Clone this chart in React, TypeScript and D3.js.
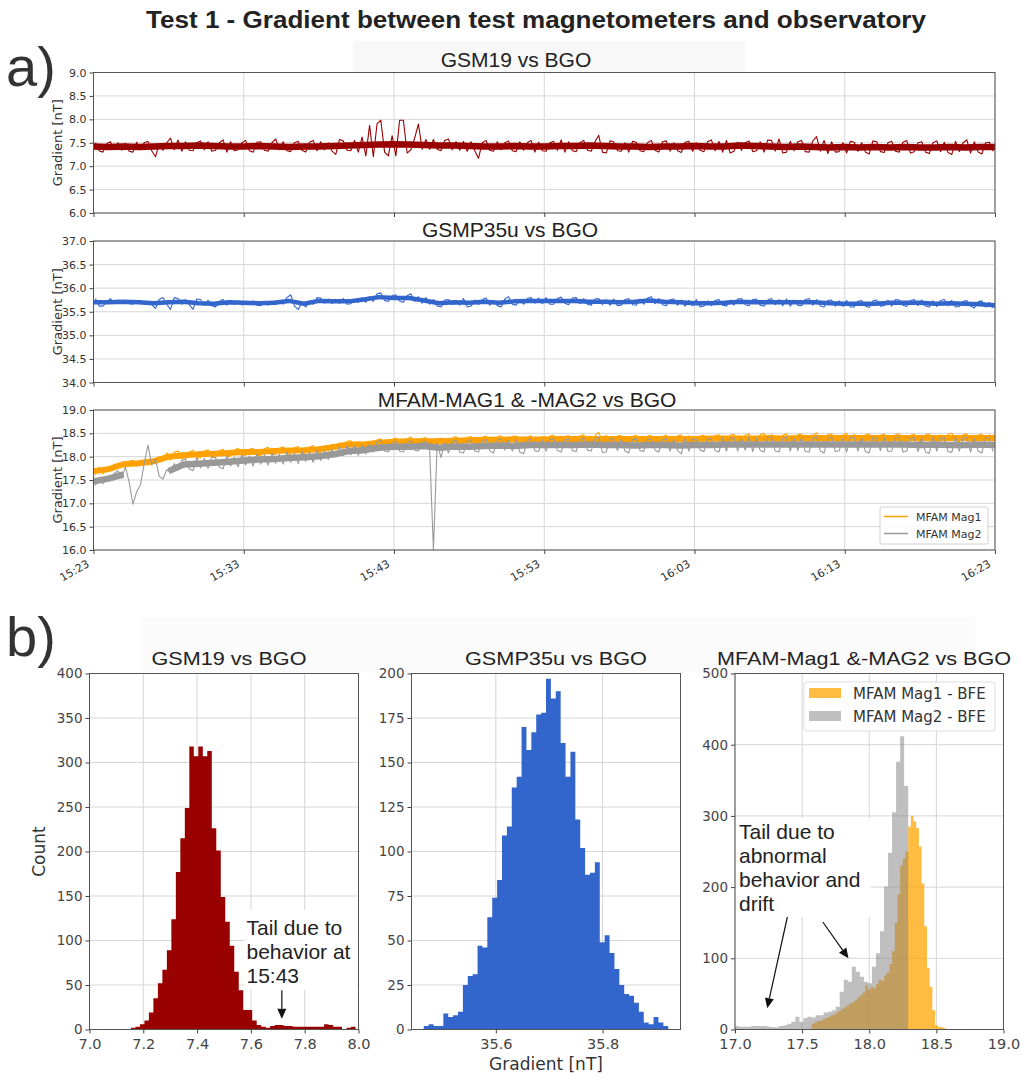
import * as d3 from 'd3';
import { useEffect, useRef } from 'react';

const WIDTH = 1028;
const HEIGHT = 1083;
const FONT_TICK = "'DejaVu Sans', 'Liberation Sans', sans-serif";
const FONT_TEXT = "'Liberation Sans', Arial, sans-serif";

/* ---------- a) gradient traces 15:23 – 16:23 ---------- */
const TIME_TICKS = ['15:23', '15:33', '15:43', '15:53', '16:03', '16:13', '16:23'];
// extremes: min / max of the trace in 30 s bins (120 bins)
const BIN_SECONDS = 30;
// core: centre of the dense noise band, one value per minute (61 values, null = no band)
const CORE_SECONDS = 60;

const gsm19Ticks = [6.0, 6.5, 7.0, 7.5, 8.0, 8.5, 9.0];
const gsmp35Ticks = [34.0, 34.5, 35.0, 35.5, 36.0, 36.5, 37.0];
const mfamTicks = [16.0, 16.5, 17.0, 17.5, 18.0, 18.5, 19.0];

const gsm19Core = [
    7.42, 7.41, 7.42, 7.41, 7.42, 7.43, 7.43, 7.44, 7.43, 7.42,
    7.42, 7.43, 7.42, 7.41, 7.42, 7.42, 7.43, 7.44, 7.45, 7.46,
    7.47, 7.46, 7.45, 7.44, 7.44, 7.43, 7.42, 7.42, 7.43, 7.42,
    7.42, 7.43, 7.43, 7.44, 7.43, 7.42, 7.42, 7.41, 7.42, 7.42,
    7.43, 7.42, 7.42, 7.44, 7.43, 7.42, 7.41, 7.42, 7.41, 7.40,
    7.41, 7.40, 7.41, 7.40, 7.41, 7.40, 7.40, 7.41, 7.40, 7.41,
    7.41,
];
const gsm19Hi = [
    7.50, 7.48, 7.52, 7.50, 7.49, 7.51, 7.50, 7.53, 7.48, 7.50,
    7.60, 7.56, 7.52, 7.50, 7.54, 7.52, 7.50, 7.56, 7.52, 7.50,
    7.55, 7.51, 7.52, 7.50, 7.58, 7.52, 7.50, 7.53, 7.51, 7.55,
    7.52, 7.50, 7.57, 7.54, 7.55, 7.62, 7.87, 7.91, 7.98, 7.65,
    7.98, 7.98, 7.60, 7.90, 7.57, 7.57, 7.55, 7.58, 7.52, 7.53,
    7.52, 7.50, 7.55, 7.52, 7.50, 7.54, 7.52, 7.50, 7.55, 7.51,
    7.50, 7.53, 7.56, 7.52, 7.50, 7.55, 7.52, 7.66, 7.54, 7.52,
    7.50, 7.53, 7.51, 7.50, 7.55, 7.52, 7.54, 7.50, 7.51, 7.53,
    7.50, 7.52, 7.56, 7.53, 7.55, 7.51, 7.50, 7.54, 7.52, 7.56,
    7.55, 7.58, 7.53, 7.52, 7.55, 7.54, 7.63, 7.55, 7.52, 7.50,
    7.53, 7.51, 7.50, 7.54, 7.52, 7.50, 7.53, 7.51, 7.55, 7.50,
    7.52, 7.50, 7.54, 7.51, 7.53, 7.50, 7.56, 7.52, 7.50, 7.51,
];
const gsm19Lo = [
    7.33, 7.30, 7.35, 7.34, 7.32, 7.30, 7.35, 7.33, 7.20, 7.34,
    7.35, 7.32, 7.34, 7.33, 7.35, 7.32, 7.34, 7.30, 7.33, 7.35,
    7.33, 7.30, 7.34, 7.32, 7.35, 7.33, 7.31, 7.34, 7.30, 7.33,
    7.35, 7.32, 7.25, 7.34, 7.33, 7.30, 7.22, 7.20, 7.30, 7.22,
    7.22, 7.28, 7.35, 7.36, 7.36, 7.36, 7.33, 7.35, 7.34, 7.32,
    7.33, 7.17, 7.34, 7.32, 7.35, 7.33, 7.31, 7.34, 7.30, 7.33,
    7.32, 7.34, 7.30, 7.33, 7.31, 7.34, 7.32, 7.30, 7.28, 7.33,
    7.32, 7.30, 7.33, 7.31, 7.34, 7.30, 7.32, 7.33, 7.29, 7.32,
    7.34, 7.31, 7.33, 7.30, 7.28, 7.32, 7.34, 7.31, 7.33, 7.30,
    7.32, 7.28, 7.30, 7.33, 7.31, 7.30, 7.32, 7.27, 7.30, 7.31,
    7.28, 7.32, 7.30, 7.26, 7.31, 7.29, 7.32, 7.30, 7.28, 7.31,
    7.30, 7.27, 7.31, 7.29, 7.25, 7.31, 7.28, 7.30, 7.26, 7.32,
];

const gsmp35Core = [
    35.70, 35.70, 35.71, 35.70, 35.68, 35.70, 35.71, 35.68, 35.67, 35.70,
    35.69, 35.68, 35.69, 35.73, 35.67, 35.73, 35.72, 35.72, 35.76, 35.81,
    35.79, 35.79, 35.74, 35.68, 35.70, 35.69, 35.71, 35.69, 35.72, 35.73,
    35.73, 35.73, 35.73, 35.71, 35.71, 35.70, 35.71, 35.74, 35.71, 35.70,
    35.68, 35.68, 35.69, 35.71, 35.70, 35.70, 35.70, 35.70, 35.70, 35.68,
    35.67, 35.67, 35.67, 35.69, 35.69, 35.69, 35.67, 35.68, 35.67, 35.66,
    35.64,
];
const gsmp35Hi = [
    35.78, 35.70, 35.78, 35.75, 35.74, 35.73, 35.74, 35.72, 35.76, 35.80,
    35.80, 35.78, 35.76, 35.77, 35.76, 35.74, 35.72, 35.76, 35.74, 35.73,
    35.72, 35.73, 35.70, 35.73, 35.74, 35.80, 35.86, 35.70, 35.72, 35.80,
    35.79, 35.77, 35.76, 35.78, 35.76, 35.80, 35.82, 35.88, 35.90, 35.84,
    35.86, 35.84, 35.88, 35.82, 35.80, 35.76, 35.75, 35.76, 35.74, 35.78,
    35.75, 35.76, 35.79, 35.74, 35.77, 35.82, 35.76, 35.78, 35.80, 35.79,
    35.80, 35.78, 35.81, 35.79, 35.80, 35.78, 35.77, 35.78, 35.76, 35.77,
    35.76, 35.78, 35.77, 35.79, 35.82, 35.78, 35.76, 35.77, 35.75, 35.74,
    35.76, 35.73, 35.74, 35.76, 35.75, 35.77, 35.78, 35.76, 35.77, 35.75,
    35.78, 35.76, 35.77, 35.75, 35.76, 35.78, 35.76, 35.74, 35.75, 35.73,
    35.74, 35.72, 35.74, 35.73, 35.75, 35.74, 35.76, 35.75, 35.74, 35.76,
    35.75, 35.73, 35.74, 35.76, 35.74, 35.72, 35.74, 35.71, 35.73, 35.70,
];
const gsmp35Lo = [
    35.62, 35.62, 35.68, 35.68, 35.67, 35.66, 35.67, 35.65, 35.57, 35.66,
    35.55, 35.66, 35.65, 35.55, 35.64, 35.63, 35.60, 35.64, 35.65, 35.64,
    35.65, 35.64, 35.63, 35.64, 35.65, 35.66, 35.62, 35.55, 35.60, 35.66,
    35.68, 35.67, 35.68, 35.66, 35.67, 35.70, 35.70, 35.72, 35.74, 35.72,
    35.73, 35.70, 35.72, 35.68, 35.66, 35.62, 35.60, 35.65, 35.64, 35.60,
    35.62, 35.65, 35.64, 35.63, 35.60, 35.66, 35.64, 35.66, 35.68, 35.67,
    35.66, 35.66, 35.68, 35.65, 35.67, 35.66, 35.64, 35.65, 35.64, 35.63,
    35.64, 35.65, 35.64, 35.66, 35.67, 35.65, 35.63, 35.64, 35.62, 35.63,
    35.60, 35.62, 35.63, 35.64, 35.62, 35.64, 35.65, 35.63, 35.64, 35.62,
    35.65, 35.63, 35.62, 35.64, 35.63, 35.64, 35.62, 35.60, 35.62, 35.61,
    35.60, 35.60, 35.62, 35.59, 35.62, 35.63, 35.62, 35.64, 35.61, 35.63,
    35.62, 35.60, 35.61, 35.63, 35.60, 35.61, 35.62, 35.58, 35.60, 35.58,
];

const mag1Core = [
    17.69, 17.73, 17.84, 17.86, 17.90, 18.00, 18.03, 18.05, 18.06, 18.08,
    18.10, 18.10, 18.12, 18.13, 18.14, 18.16, 18.21, 18.26, 18.26, 18.30,
    18.32, 18.33, 18.33, 18.33, 18.34, 18.35, 18.36, 18.36, 18.37, 18.37,
    18.37, 18.38, 18.38, 18.38, 18.38, 18.38, 18.38, 18.38, 18.38, 18.38,
    18.38, 18.39, 18.39, 18.39, 18.39, 18.40, 18.39, 18.40, 18.40, 18.40,
    18.40, 18.40, 18.40, 18.40, 18.40, 18.40, 18.40, 18.40, 18.40, 18.40,
    18.40,
];
const mag1Hi = [
    17.78, 17.76, 17.84, 17.88, 17.90, 17.92, 17.90, 17.93, 18.00, 18.08,
    18.10, 18.12, 18.10, 18.14, 18.12, 18.15, 18.13, 18.16, 18.14, 18.18,
    18.16, 18.18, 18.17, 18.20, 18.18, 18.21, 18.19, 18.22, 18.20, 18.24,
    18.22, 18.26, 18.30, 18.33, 18.34, 18.32, 18.31, 18.36, 18.38, 18.37,
    18.40, 18.38, 18.42, 18.39, 18.41, 18.38, 18.40, 18.39, 18.43, 18.41,
    18.43, 18.41, 18.44, 18.42, 18.45, 18.43, 18.44, 18.42, 18.45, 18.43,
    18.44, 18.46, 18.43, 18.45, 18.44, 18.47, 18.45, 18.52, 18.46, 18.44,
    18.45, 18.43, 18.46, 18.44, 18.45, 18.43, 18.46, 18.44, 18.47, 18.45,
    18.44, 18.46, 18.45, 18.47, 18.46, 18.48, 18.46, 18.49, 18.47, 18.50,
    18.48, 18.46, 18.49, 18.47, 18.48, 18.46, 18.51, 18.47, 18.49, 18.46,
    18.50, 18.48, 18.47, 18.49, 18.46, 18.48, 18.47, 18.49, 18.46, 18.48,
    18.47, 18.49, 18.46, 18.48, 18.50, 18.47, 18.49, 18.46, 18.48, 18.47,
];
const mag1Lo = [
    17.60, 17.63, 17.70, 17.76, 17.80, 17.80, 17.81, 17.82, 17.85, 17.90,
    17.93, 17.95, 17.95, 17.97, 17.98, 17.99, 17.98, 18.00, 18.01, 18.02,
    18.02, 18.03, 18.02, 18.04, 18.05, 18.06, 18.05, 18.07, 18.08, 18.09,
    18.10, 18.12, 18.15, 18.18, 18.20, 18.19, 18.20, 18.22, 18.24, 18.24,
    18.25, 18.24, 18.26, 18.25, 18.26, 18.25, 18.27, 18.26, 18.28, 18.27,
    18.29, 18.28, 18.30, 18.29, 18.31, 18.29, 18.30, 18.28, 18.31, 18.29,
    18.30, 18.31, 18.29, 18.30, 18.29, 18.32, 18.30, 18.33, 18.31, 18.29,
    18.30, 18.29, 18.31, 18.30, 18.31, 18.29, 18.32, 18.30, 18.32, 18.31,
    18.30, 18.32, 18.31, 18.33, 18.31, 18.33, 18.32, 18.34, 18.32, 18.34,
    18.33, 18.31, 18.34, 18.32, 18.33, 18.31, 18.35, 18.32, 18.34, 18.31,
    18.34, 18.33, 18.32, 18.34, 18.31, 18.33, 18.32, 18.34, 18.31, 18.33,
    18.32, 18.34, 18.31, 18.33, 18.34, 18.32, 18.34, 18.31, 18.33, 18.32,
];

const mag2Core = [
    17.47, 17.53, 17.62, null, null, 17.69, 17.83, 17.85, 17.87, 17.89,
    17.92, 17.94, 17.95, 17.97, 17.99, 18.01, 18.05, 18.12, 18.14, 18.19,
    18.21, 18.21, 18.23, 18.19, 18.22, 18.21, 18.23, 18.24, 18.23, 18.25,
    18.25, 18.25, 18.25, 18.26, 18.25, 18.25, 18.24, 18.25, 18.25, 18.24,
    18.25, 18.25, 18.26, 18.26, 18.26, 18.26, 18.26, 18.26, 18.26, 18.26,
    18.26, 18.26, 18.26, 18.26, 18.26, 18.25, 18.26, 18.25, 18.25, 18.26,
    18.25,
];
const mag2Hi = [
    17.56, 17.55, 17.64, 17.70, 17.78, 17.25, 17.85, 18.25, 17.95, 17.72,
    17.85, 17.92, 17.95, 17.98, 17.96, 18.00, 17.98, 18.02, 17.99, 18.04,
    18.02, 18.06, 18.04, 18.08, 18.05, 18.10, 18.07, 18.12, 18.09, 18.14,
    18.12, 18.16, 18.22, 18.24, 18.23, 18.26, 18.28, 18.32, 18.34, 18.30,
    18.33, 18.30, 18.34, 18.31, 18.33, 18.30, 18.30, 18.33, 18.35, 18.32,
    18.36, 18.34, 18.37, 18.35, 18.38, 18.35, 18.37, 18.34, 18.38, 18.36,
    18.37, 18.39, 18.36, 18.38, 18.37, 18.40, 18.38, 18.42, 18.39, 18.37,
    18.38, 18.36, 18.39, 18.37, 18.38, 18.36, 18.39, 18.37, 18.40, 18.38,
    18.37, 18.39, 18.38, 18.40, 18.39, 18.41, 18.39, 18.42, 18.40, 18.42,
    18.41, 18.39, 18.42, 18.40, 18.41, 18.39, 18.43, 18.40, 18.42, 18.39,
    18.42, 18.41, 18.40, 18.42, 18.39, 18.41, 18.40, 18.42, 18.39, 18.41,
    18.40, 18.42, 18.39, 18.41, 18.42, 18.40, 18.42, 18.39, 18.41, 18.40,
];
const mag2Lo = [
    17.38, 17.42, 17.50, 17.54, 17.45, 16.98, 17.40, 17.82, 17.58, 17.52,
    17.66, 17.72, 17.74, 17.70, 17.76, 17.75, 17.78, 17.74, 17.80, 17.78,
    17.82, 17.80, 17.84, 17.82, 17.86, 17.84, 17.88, 17.85, 17.90, 17.88,
    17.92, 17.94, 18.00, 18.02, 18.04, 18.03, 18.06, 18.10, 18.12, 18.10,
    18.12, 18.10, 18.14, 18.12, 18.13, 16.00, 17.98, 18.08, 18.10, 18.08,
    18.12, 18.10, 18.13, 18.08, 18.14, 18.12, 18.10, 18.06, 18.13, 18.11,
    18.12, 18.14, 18.10, 18.13, 18.11, 18.14, 18.12, 18.09, 18.10, 18.13,
    18.12, 18.08, 18.13, 18.11, 18.14, 18.10, 18.12, 18.13, 18.06, 18.12,
    18.14, 18.11, 18.13, 18.10, 18.12, 18.12, 18.14, 18.11, 18.13, 18.10,
    18.12, 18.10, 18.12, 18.13, 18.11, 18.10, 18.12, 18.08, 18.11, 18.12,
    18.10, 18.12, 18.11, 18.08, 18.13, 18.11, 18.12, 18.10, 18.12, 18.11,
    18.10, 18.07, 18.12, 18.11, 18.09, 18.12, 18.10, 18.12, 18.08, 18.11,
];

/* ---------- b) histograms (bin start, bin width, counts) ---------- */
const gsm19HistStart = 7.154;
const gsm19HistWidth = 0.0167;
const gsm19HistCounts = [
    2, 3, 6, 10, 19, 35, 52, 67, 89, 124,
    177, 215, 249, 318, 307, 318, 307, 313, 226, 201,
    149, 121, 94, 65, 44, 22, 22, 10, 5, 3,
    2, 4, 5, 5, 4, 4, 3, 3, 3, 3,
    3, 3, 3, 6, 5, 3, 3, 0, 2, 3,
];

const gsmp35HistStart = 35.465;
const gsmp35HistWidth = 0.00916;
const gsmp35HistCounts = [
    2, 3, 2, 2, 9, 7, 8, 10, 25, 30,
    31, 47, 46, 63, 74, 84, 109, 114, 136, 142,
    170, 157, 167, 177, 178, 197, 186, 190, 161, 142,
    156, 118, 102, 87, 88, 94, 49, 53, 43, 34,
    25, 20, 19, 15, 10, 4, 3, 7, 4, 2,
];

const mag1HistStart = 17.57;
const mag1HistWidth = 0.02;
const mag1HistCounts = [
    8, 10, 12, 12, 14, 16, 18, 20, 21, 24,
    26, 29, 31, 34, 36, 38, 41, 45, 48, 52,
    62, 56, 60, 58, 64, 70, 68, 76, 80, 92,
    110, 150, 190, 230, 240, 250, 285, 300, 292, 283,
    257, 205, 145, 86, 60, 27, 6, 4, 3, 2,
];

const mag2HistStart = 17.0;
const mag2HistWidth = 0.03;
const mag2HistCounts = [
    5, 4, 4, 4, 5, 5, 5, 5, 4, 3,
    3, 5, 6, 8, 11, 18, 11, 16, 18, 17,
    20, 20, 24, 25, 27, 32, 53, 70, 67, 88,
    81, 74, 67, 65, 88, 107, 138, 201, 248, 305,
    376, 412, 342,
];

const gsm19HistXTicks = [7.0, 7.2, 7.4, 7.6, 7.8, 8.0];
const gsm19HistYTicks = [0, 50, 100, 150, 200, 250, 300, 350, 400];
const gsmp35HistXTicks = [35.6, 35.8];
const gsmp35HistYTicks = [0, 25, 50, 75, 100, 125, 150, 175, 200];
const mfamHistXTicks = [17.0, 17.5, 18.0, 18.5, 19.0];
const mfamHistYTicks = [0, 100, 200, 300, 400, 500];

/* ---------- layout ---------- */
const TS_LEFT = 93.5;
const TS_RIGHT = 995;
const HIST_TOP = 673.5;
const HIST_BOTTOM = 1029.5;
const GRID = '#d6d6d6';

const parseTime = d3.timeParse('%H:%M');

function envelopePoints(t0, hi, lo) {
    // min/max pair per bin, ordered so the path heads toward the next bin
    const pts = [];
    hi.forEach((h, i) => {
        const l = lo[i];
        const mid = (h + l) / 2;
        const next = i + 1 < hi.length ? (hi[i + 1] + lo[i + 1]) / 2 : mid;
        const a = new Date(t0.getTime() + (i + 0.25) * BIN_SECONDS * 1000);
        const b = new Date(t0.getTime() + (i + 0.75) * BIN_SECONDS * 1000);
        if (next > mid) {
            pts.push([a, l], [b, h]);
        } else {
            pts.push([a, h], [b, l]);
        }
    });
    return pts;
}

function styleAxis(sel, size, color) {
    sel.attr('font-family', FONT_TICK).attr('font-size', size);
    sel.select('.domain').remove();
    sel.selectAll('text').attr('fill', color);
    sel.selectAll('line').attr('stroke', '#444');
}

function drawArrow(g, x1, y1, x2, y2) {
    const len = Math.hypot(x2 - x1, y2 - y1);
    const ux = (x2 - x1) / len;
    const uy = (y2 - y1) / len;
    const head = 10;
    const half = 4.5;
    const bx = x2 - ux * head;
    const by = y2 - uy * head;
    g.append('line')
        .attr('x1', x1).attr('y1', y1).attr('x2', bx).attr('y2', by)
        .attr('stroke', '#111').attr('stroke-width', 1.2);
    g.append('path')
        .attr('d', `M${x2},${y2}L${bx - uy * half},${by + ux * half}L${bx + uy * half},${by - ux * half}Z`)
        .attr('fill', '#111');
}

export default function App() {
    const svgRef = useRef(null);

    useEffect(() => {
        if (!svgRef.current) {
            return;
        }
        const svg = d3.select(svgRef.current);
        svg.selectAll('*').remove();

        svg.append('rect').attr('width', WIDTH).attr('height', HEIGHT).attr('fill', '#fff');

        // faint backdrops of the pasted titles
        svg.append('rect').attr('x', 353).attr('y', 41).attr('width', 392).attr('height', 31).attr('fill', '#f8f8f8');
        svg.append('rect').attr('x', 140).attr('y', 617).attr('width', 835).attr('height', 55).attr('fill', '#fbfbfb');

        svg.append('text')
            .attr('x', 536).attr('y', 28)
            .attr('text-anchor', 'middle')
            .attr('font-family', "'Liberation Sans Narrow', 'Liberation Sans', Arial, sans-serif")
            .attr('font-weight', 700).attr('font-size', 23)
            .attr('textLength', 780).attr('lengthAdjust', 'spacingAndGlyphs')
            .attr('fill', '#222')
            .text('Test 1 - Gradient between test magnetometers and observatory');

        svg.append('text').attr('x', 6).attr('y', 86)
            .attr('font-family', FONT_TEXT).attr('font-size', 56).attr('fill', '#333').text('a)');
        svg.append('text').attr('x', 6).attr('y', 656)
            .attr('font-family', FONT_TEXT).attr('font-size', 56).attr('fill', '#333').text('b)');

        /* ----- a) time series ----- */
        const times = TIME_TICKS.map((t) => parseTime(t));
        const t0 = times[0];
        const x = d3.scaleTime().domain([times[0], times[times.length - 1]]).range([TS_LEFT, TS_RIGHT]);

        const tsPanels = [
            {
                top: 72.5, bottom: 213, ticks: gsm19Ticks,
                title: 'GSM19 vs BGO', titleX: 516, titleY: 67,
                traces: [{ core: gsm19Core, hi: gsm19Hi, lo: gsm19Lo, color: '#990000', band: 6.5 }],
            },
            {
                top: 241, bottom: 382.5, ticks: gsmp35Ticks,
                title: 'GSMP35u vs BGO', titleX: 510, titleY: 237,
                traces: [{ core: gsmp35Core, hi: gsmp35Hi, lo: gsmp35Lo, color: '#3366cc', band: 4.5 }],
            },
            {
                top: 410, bottom: 550, ticks: mfamTicks,
                title: 'MFAM-MAG1 & -MAG2 vs BGO', titleX: 527, titleY: 407,
                traces: [
                    { core: mag1Core, hi: mag1Hi, lo: mag1Lo, color: '#ffa200', band: 6, label: 'MFAM Mag1' },
                    { core: mag2Core, hi: mag2Hi, lo: mag2Lo, color: '#999999', band: 6.5, label: 'MFAM Mag2' },
                ],
                xLabels: true,
                legend: true,
            },
        ];

        tsPanels.forEach((p, idx) => {
            const y = d3.scaleLinear()
                .domain([p.ticks[0], p.ticks[p.ticks.length - 1]])
                .range([p.bottom, p.top]);
            const line = d3.line()
                .defined((d) => d[1] != null)
                .x((d) => x(d[0]))
                .y((d) => y(d[1]));
            const g = svg.append('g');

            g.selectAll('line.hgrid').data(p.ticks).join('line')
                .attr('x1', TS_LEFT).attr('x2', TS_RIGHT)
                .attr('y1', (d) => y(d)).attr('y2', (d) => y(d))
                .attr('stroke', GRID);
            g.selectAll('line.vgrid').data(times).join('line')
                .attr('x1', (d) => x(d)).attr('x2', (d) => x(d))
                .attr('y1', p.top).attr('y2', p.bottom)
                .attr('stroke', GRID);

            const clipId = `ts-clip-${idx}`;
            svg.append('clipPath').attr('id', clipId).append('rect')
                .attr('x', TS_LEFT).attr('y', p.top)
                .attr('width', TS_RIGHT - TS_LEFT).attr('height', p.bottom - p.top);

            p.traces.forEach((tr) => {
                const corePts = tr.core.map((v, i) => [new Date(t0.getTime() + i * CORE_SECONDS * 1000), v]);
                g.append('path')
                    .attr('clip-path', `url(#${clipId})`)
                    .attr('d', line(corePts))
                    .attr('fill', 'none')
                    .attr('stroke', tr.color)
                    .attr('stroke-width', tr.band)
                    .attr('stroke-linejoin', 'round');
                g.append('path')
                    .attr('clip-path', `url(#${clipId})`)
                    .attr('d', line(envelopePoints(t0, tr.hi, tr.lo)))
                    .attr('fill', 'none')
                    .attr('stroke', tr.color)
                    .attr('stroke-width', 1.1)
                    .attr('stroke-linejoin', 'round');
            });

            g.append('rect')
                .attr('x', TS_LEFT).attr('y', p.top)
                .attr('width', TS_RIGHT - TS_LEFT).attr('height', p.bottom - p.top)
                .attr('fill', 'none').attr('stroke', '#555');

            const ay = g.append('g')
                .attr('transform', `translate(${TS_LEFT},0)`)
                .call(d3.axisLeft(y).tickValues(p.ticks).tickFormat(d3.format('.1f')).tickSize(4).tickPadding(3));
            styleAxis(ay, 11, '#333');

            const ax = g.append('g')
                .attr('transform', `translate(0,${p.bottom})`)
                .call(d3.axisBottom(x).tickValues(times).tickSize(4)
                    .tickFormat(p.xLabels ? d3.timeFormat('%H:%M') : () => ''));
            styleAxis(ax, 11, '#333');
            if (p.xLabels) {
                ax.selectAll('text')
                    .attr('y', 0).attr('dy', 0)
                    .attr('text-anchor', 'end')
                    .attr('transform', 'translate(-4,16) rotate(-30)');
            }

            g.append('text')
                .attr('transform', `translate(62,${(p.top + p.bottom) / 2}) rotate(-90)`)
                .attr('text-anchor', 'middle')
                .attr('font-family', FONT_TICK).attr('font-size', 13).attr('fill', '#333')
                .text('Gradient [nT]');

            g.append('text')
                .attr('x', p.titleX).attr('y', p.titleY)
                .attr('text-anchor', 'middle')
                .attr('font-family', FONT_TEXT).attr('font-size', 21).attr('fill', '#222')
                .text(p.title);

            if (p.legend) {
                const lg = g.append('g').attr('transform', `translate(880,507)`);
                lg.append('rect').attr('width', 108).attr('height', 37).attr('rx', 2)
                    .attr('fill', '#fff').attr('fill-opacity', 0.85).attr('stroke', '#d0d0d0');
                p.traces.forEach((tr, i) => {
                    const yy = 9.5 + i * 17;
                    lg.append('line').attr('x1', 4).attr('x2', 28).attr('y1', yy).attr('y2', yy)
                        .attr('stroke', tr.color).attr('stroke-width', 1.5);
                    lg.append('text').attr('x', 36).attr('y', yy + 4)
                        .attr('font-family', FONT_TICK).attr('font-size', 11).attr('fill', '#333')
                        .text(tr.label);
                });
            }
        });

        /* ----- b) histograms ----- */
        const histPanels = [
            {
                left: 89.5, right: 358.5, xDomain: [7.0, 8.0],
                xTicks: gsm19HistXTicks, yTicks: gsm19HistYTicks,
                title: 'GSM19 vs BGO', titleX: 229, titleLen: 155,
                series: [{ start: gsm19HistStart, width: gsm19HistWidth, counts: gsm19HistCounts, fill: '#990000', opacity: 1 }],
                box: [245, 910, 112, 80],
            },
            {
                left: 411.5, right: 680.5, xDomain: [35.442, 35.946],
                xTicks: gsmp35HistXTicks, yTicks: gsmp35HistYTicks,
                title: 'GSMP35u vs BGO', titleX: 556, titleLen: 182,
                series: [{ start: gsmp35HistStart, width: gsmp35HistWidth, counts: gsmp35HistCounts, fill: '#3366cc', opacity: 1 }],
            },
            {
                left: 735, right: 1003.5, xDomain: [17.0, 19.0],
                xTicks: mfamHistXTicks, yTicks: mfamHistYTicks,
                title: 'MFAM-Mag1 &-MAG2 vs BGO', titleX: 864, titleLen: 294,
                series: [
                    { start: mag1HistStart, width: mag1HistWidth, counts: mag1HistCounts, fill: '#ffa500', opacity: 0.75, label: 'MFAM Mag1 - BFE' },
                    { start: mag2HistStart, width: mag2HistWidth, counts: mag2HistCounts, fill: '#808080', opacity: 0.5, label: 'MFAM Mag2 - BFE' },
                ],
                box: [736.5, 818, 134, 99],
                legend: true,
            },
        ];

        const scales = histPanels.map((p) => {
            const hx = d3.scaleLinear().domain(p.xDomain).range([p.left, p.right]);
            const hy = d3.scaleLinear().domain([0, p.yTicks[p.yTicks.length - 1]]).range([HIST_BOTTOM, HIST_TOP]);
            const g = svg.append('g');

            g.selectAll('line.hgrid').data(p.yTicks).join('line')
                .attr('x1', p.left).attr('x2', p.right)
                .attr('y1', (d) => hy(d)).attr('y2', (d) => hy(d))
                .attr('stroke', GRID);
            g.selectAll('line.vgrid').data(p.xTicks).join('line')
                .attr('x1', (d) => hx(d)).attr('x2', (d) => hx(d))
                .attr('y1', HIST_TOP).attr('y2', HIST_BOTTOM)
                .attr('stroke', GRID);

            if (p.box) {
                g.append('rect')
                    .attr('x', p.box[0]).attr('y', p.box[1]).attr('width', p.box[2]).attr('height', p.box[3])
                    .attr('fill', '#fff');
            }

            p.series.forEach((s) => {
                const pts = s.counts.map((c, i) => [s.start + i * s.width, c]);
                pts.push([s.start + s.counts.length * s.width, s.counts[s.counts.length - 1]]);
                const area = d3.area()
                    .x((d) => hx(d[0]))
                    .y0(hy(0))
                    .y1((d) => hy(d[1]))
                    .curve(d3.curveStepAfter);
                g.append('path')
                    .attr('d', area(pts))
                    .attr('fill', s.fill)
                    .attr('fill-opacity', s.opacity);
            });

            g.append('rect')
                .attr('x', p.left).attr('y', HIST_TOP)
                .attr('width', p.right - p.left).attr('height', HIST_BOTTOM - HIST_TOP)
                .attr('fill', 'none').attr('stroke', '#555');

            const ay = g.append('g')
                .attr('transform', `translate(${p.left},0)`)
                .call(d3.axisLeft(hy).tickValues(p.yTicks).tickFormat(d3.format('d')).tickSize(4).tickPadding(3));
            styleAxis(ay, 13.5, '#444');

            const ax = g.append('g')
                .attr('transform', `translate(0,${HIST_BOTTOM})`)
                .call(d3.axisBottom(hx).tickValues(p.xTicks).tickFormat(d3.format('.1f')).tickSize(4).tickPadding(5));
            styleAxis(ax, 14.5, '#444');

            g.append('text')
                .attr('x', p.titleX).attr('y', 665)
                .attr('text-anchor', 'middle')
                .attr('font-family', FONT_TEXT).attr('font-size', 19)
                .attr('textLength', p.titleLen).attr('lengthAdjust', 'spacingAndGlyphs')
                .attr('fill', '#222')
                .text(p.title);

            if (p.legend) {
                const lg = g.append('g').attr('transform', 'translate(804,682)');
                lg.append('rect').attr('width', 191).attr('height', 49).attr('rx', 3)
                    .attr('fill', '#fff').attr('fill-opacity', 0.85).attr('stroke', '#dddddd');
                p.series.forEach((s, i) => {
                    const yy = 6 + i * 23;
                    lg.append('rect').attr('x', 5).attr('y', yy).attr('width', 32).attr('height', 10)
                        .attr('fill', s.fill).attr('fill-opacity', s.opacity);
                    lg.append('text').attr('x', 49).attr('y', yy + 10.5)
                        .attr('font-family', FONT_TICK).attr('font-size', 15).attr('fill', '#333')
                        .text(s.label);
                });
            }
            return { g, hx, hy };
        });

        svg.append('text')
            .attr('transform', `translate(45,${(HIST_TOP + HIST_BOTTOM) / 2}) rotate(-90)`)
            .attr('text-anchor', 'middle')
            .attr('font-family', FONT_TICK).attr('font-size', 17).attr('fill', '#333')
            .text('Count');
        svg.append('text')
            .attr('x', 546).attr('y', 1070)
            .attr('text-anchor', 'middle')
            .attr('font-family', FONT_TICK).attr('font-size', 17).attr('fill', '#333')
            .text('Gradient [nT]');

        // annotations
        const a1 = scales[0];
        const note1 = a1.g.append('text')
            .attr('font-family', FONT_TEXT).attr('font-size', 21).attr('fill', '#222');
        ['Tail due to', 'behavior at', '15:43'].forEach((s, i) => {
            note1.append('tspan').attr('x', 246.5).attr('y', 935 + i * 24).text(s);
        });
        drawArrow(a1.g, a1.hx(7.715), a1.hy(44), a1.hx(7.715), a1.hy(12));

        const a3 = scales[2];
        const note3 = a3.g.append('text')
            .attr('font-family', FONT_TEXT).attr('font-size', 21).attr('fill', '#222');
        ['Tail due to', 'abnormal', 'behavior and', 'drift'].forEach((s, i) => {
            note3.append('tspan').attr('x', 739).attr('y', 838.5 + i * 24).text(s);
        });
        drawArrow(a3.g, a3.hx(17.39), a3.hy(158), a3.hx(17.24), a3.hy(30));
        drawArrow(a3.g, a3.hx(17.654), a3.hy(151), a3.hx(17.845), a3.hy(100));
    }, []);

    return (
        <div>
            <style>{'body{margin:0}'}</style>
            <svg ref={svgRef} width={WIDTH} height={HEIGHT} style={{ display: 'block' }} />
        </div>
    );
}
